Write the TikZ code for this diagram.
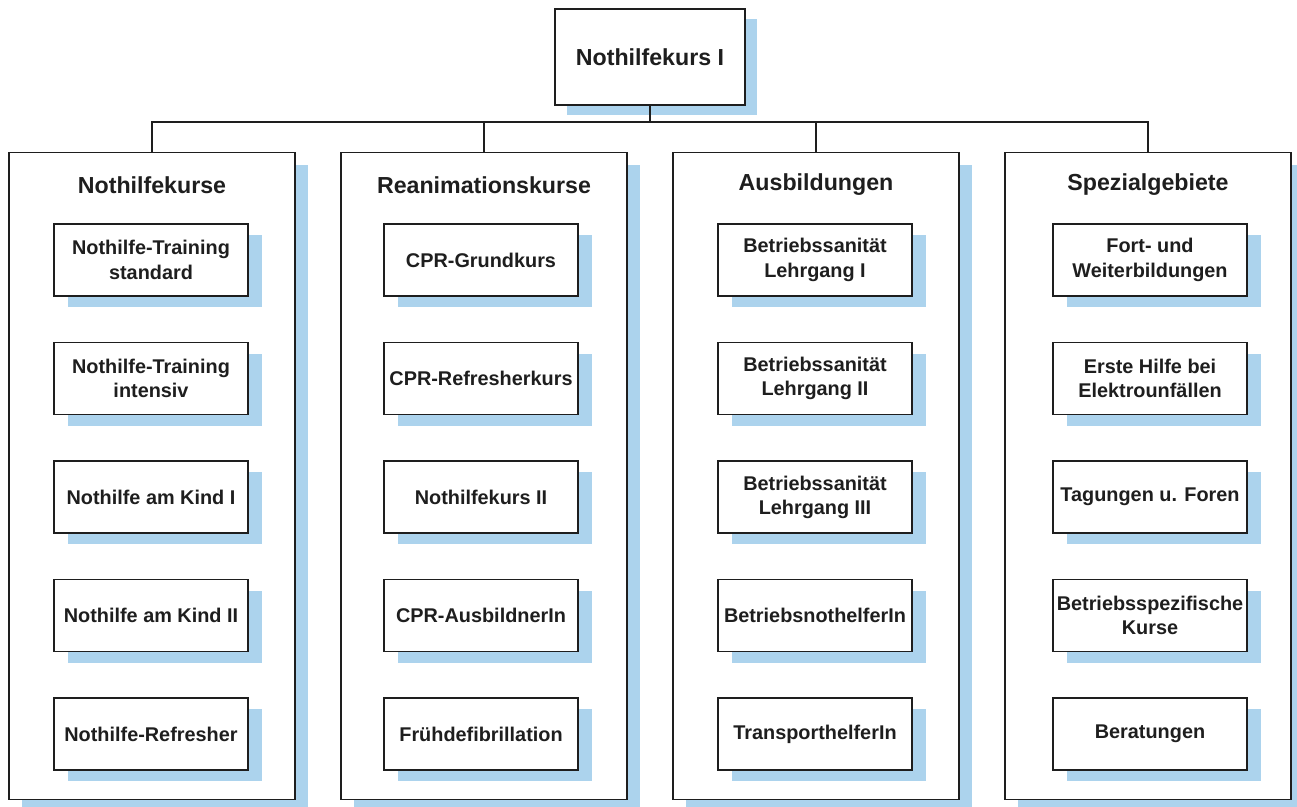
\documentclass[tikz,border=0pt]{standalone}
\usepackage{fontspec}
\setmainfont{Liberation Sans}
\usetikzlibrary{positioning,shadows}
\definecolor{shadeblue}{RGB}{172,211,237}
\definecolor{inkgray}{RGB}{30,30,30}

\begin{document}
\begin{tikzpicture}[x=0.02cm, y=-0.02cm,
    topStyle/.style={rectangle, draw=inkgray, fill=white, line width=1pt, text=inkgray, minimum width=3.8cm, minimum height=1.92cm, font=\fontsize{13.2}{15}\selectfont\bfseries, drop shadow={shadow xshift=0.24cm, shadow yshift=-0.2cm, fill=shadeblue, opacity=1}},
    colStyle/.style={rectangle, draw=inkgray, fill=white, line width=1pt, minimum width=5.72cm, minimum height=12.94cm, drop shadow={shadow xshift=0.26cm, shadow yshift=-0.24cm, fill=shadeblue, opacity=1}},
    headStyle/.style={text=inkgray, font=\fontsize{13.2}{15}\selectfont\bfseries},
    itemStyle/.style={rectangle, draw=inkgray, fill=white, line width=0.9pt, text=inkgray, align=center, minimum width=3.88cm, minimum height=1.44cm, inner sep=2pt, font=\fontsize{11.3}{13.8}\selectfont\bfseries, drop shadow={shadow xshift=0.28cm, shadow yshift=-0.22cm, fill=shadeblue, opacity=1}},
    lineStyle/.style={line width=1pt, draw=inkgray}
]
    \useasboundingbox (0,0) rectangle (1297,807);

    \node[topStyle] (top) at (650, 57) {Nothilfekurs I};

    % the four columns
    \node[colStyle] (c1) at (152, 476) {};
    \node[colStyle] (c2) at (484, 476) {};
    \node[colStyle] (c3) at (816, 476) {};
    \node[colStyle] (c4) at (1148, 476) {};

    \node[headStyle] (h1) at (152, 185) {Nothilfekurse};
    \node[headStyle] (h2) at (484, 185) {Reanimationskurse};
    \node[headStyle] (h3) at (816, 185) {Ausbildungen};
    \node[headStyle] (h4) at (1148, 185) {Spezialgebiete};

    % column 1
    \node[itemStyle] (n11) at (151, 260) {Nothilfe-Training\\standard};
    \node[itemStyle, below=0.9cm of n11] (n12) {Nothilfe-Training\\intensiv};
    \node[itemStyle, below=0.9cm of n12] (n13) {Nothilfe am Kind I};
    \node[itemStyle, below=0.9cm of n13] (n14) {Nothilfe am Kind II};
    \node[itemStyle, below=0.9cm of n14] (n15) {Nothilfe-Refresher};

    % column 2
    \node[itemStyle] (n21) at (481, 260) {CPR-Grundkurs};
    \node[itemStyle, below=0.9cm of n21] (n22) {CPR-Refresherkurs};
    \node[itemStyle, below=0.9cm of n22] (n23) {Nothilfekurs II};
    \node[itemStyle, below=0.9cm of n23] (n24) {CPR-AusbildnerIn};
    \node[itemStyle, below=0.9cm of n24] (n25) {Frühdefibrillation};

    % column 3
    \node[itemStyle] (n31) at (815, 260) {Betriebssanität\\Lehrgang I};
    \node[itemStyle, below=0.9cm of n31] (n32) {Betriebssanität\\Lehrgang II};
    \node[itemStyle, below=0.9cm of n32] (n33) {Betriebssanität\\Lehrgang III};
    \node[itemStyle, below=0.9cm of n33] (n34) {BetriebsnothelferIn};
    \node[itemStyle, below=0.9cm of n34] (n35) {TransporthelferIn};

    % column 4
    \node[itemStyle] (n41) at (1150, 260) {Fort- und\\Weiterbildungen};
    \node[itemStyle, below=0.9cm of n41] (n42) {Erste Hilfe bei\\Elektrounfällen};
    \node[itemStyle, below=0.9cm of n42] (n43) {Tagungen u. Foren};
    \node[itemStyle, below=0.9cm of n43] (n44) {Betriebsspezifische\\Kurse};
    \node[itemStyle, below=0.9cm of n44] (n45) {Beratungen};

    % bus between the top box and the columns
    \coordinate (bus) at (650, 122);
    \draw[lineStyle] (top.south) -- (bus);
    \draw[lineStyle] (c1.north) |- (bus) -| (c4.north);
    \draw[lineStyle] (c2.north) -- (c2.north |- bus);
    \draw[lineStyle] (c3.north) -- (c3.north |- bus);
\end{tikzpicture}
\end{document}
